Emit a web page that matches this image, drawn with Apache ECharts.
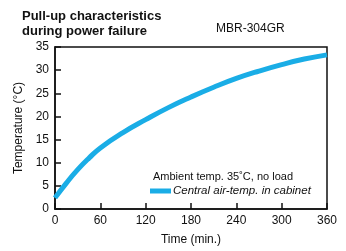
<!DOCTYPE html>
<html style="height: 100%">
<head>
<meta charset="utf-8">
</head>
<body style="height: 100%; margin: 0; background: #fff">
<div id="container" style="height: 251px; width: 346px"></div>
<script type="text/javascript" src="https://cdn.jsdelivr.net/npm/echarts/dist/echarts.min.js"></script>
<script type="text/javascript">
// time in minutes, temperature in degC
var timeMin = [0, 15, 30, 45, 60, 90, 120, 150, 180, 210, 240, 270, 300, 330, 360];
var tempC = [2.4, 5.6, 8.5, 11.0, 13.2, 16.5, 19.3, 21.9, 24.2, 26.3, 28.2, 29.8, 31.2, 32.4, 33.3];
var seriesName = 'Central air-temp. in cabinet';
var noteText = 'Ambient temp. 35\u02daC, no load';

var font = '"Liberation Sans", Arial, sans-serif';
var blue = '#1aade6';

var points = [];
for (var i = 0; i < timeMin.length; i++) {
    points.push([timeMin[i], tempC[i]]);
}

var myChart = echarts.init(document.getElementById('container'));
var option = {
    animation: false,
    title: [
        {
            text: 'Pull-up characteristics\nduring power failure',
            left: 17, top: 4,
            textStyle: { fontFamily: font, fontWeight: 'bold', fontSize: 13, lineHeight: 15, color: '#111' }
        },
        {
            text: 'MBR-304GR',
            left: 211, top: 18,
            textStyle: { fontFamily: font, fontWeight: 'normal', fontSize: 12, color: '#111' }
        },
        {
            text: noteText,
            left: 148, top: 166,
            textStyle: { fontFamily: font, fontWeight: 'normal', fontSize: 11, color: '#111' }
        }
    ],
    legend: {
        left: 145, top: 180,
        itemWidth: 21, itemHeight: 5, itemGap: 4,
        icon: 'rect',
        data: [seriesName],
        textStyle: { fontFamily: font, fontStyle: 'italic', fontSize: 11.5, color: '#111', padding: [0, 0, 0, -3] }
    },
    grid: {
        left: 55, right: 19, top: 47, bottom: 40,
        show: true, borderColor: '#111', borderWidth: 1.5
    },
    xAxis: {
        type: 'value',
        min: 0, max: 360, interval: 60,
        name: 'Time (min.)',
        nameLocation: 'center', nameGap: 25,
        nameTextStyle: { fontFamily: font, fontSize: 12, color: '#111' },
        axisLine: { lineStyle: { color: '#111', width: 1.5 } },
        axisTick: { inside: true, length: 6, lineStyle: { color: '#111', width: 1.5 } },
        axisLabel: { fontFamily: font, fontSize: 12, color: '#111', margin: 6 },
        splitLine: { show: false }
    },
    yAxis: {
        type: 'value',
        min: 0, max: 35, interval: 5,
        name: 'Temperature (\u00b0C)',
        nameLocation: 'center', nameGap: 28,
        nameTextStyle: { fontFamily: font, fontSize: 12, color: '#111' },
        axisLine: { lineStyle: { color: '#111', width: 1.5 } },
        axisTick: { inside: true, length: 6, lineStyle: { color: '#111', width: 1.5 } },
        axisLabel: { fontFamily: font, fontSize: 12, color: '#111', margin: 6 },
        splitLine: { show: false }
    },
    series: [
        {
            name: seriesName,
            type: 'line',
            smooth: true,
            symbol: 'none',
            color: blue,
            lineStyle: { color: blue, width: 5 },
            data: points
        }
    ]
};
myChart.setOption(option);
</script>
</body>
</html>
